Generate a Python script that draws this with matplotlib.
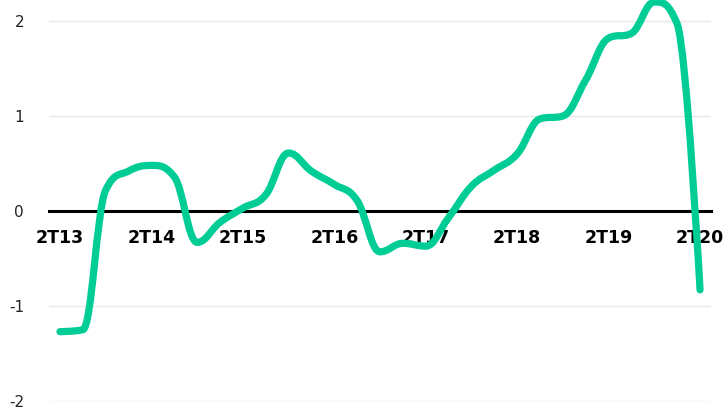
import matplotlib
matplotlib.use("Agg")
import matplotlib.pyplot as plt
from matplotlib.path import Path
from matplotlib.patches import PathPatch

# quarterly values, 2T13 .. 2T20
quarters = list(range(29))
values = [-1.27, -1.25, 0.22, 0.42, 0.48, 0.36, -0.33, -0.12, 0.03, 0.17,
          0.61, 0.42, 0.28, 0.11, -0.43, -0.34, -0.37, -0.07, 0.26, 0.43,
          0.60, 0.97, 1.00, 1.38, 1.82, 1.87, 2.20, 1.97, -0.83]
tick_pos = [0, 4, 8, 12, 16, 20, 24, 28]
tick_labels = ["2T13", "2T14", "2T15", "2T16", "2T17", "2T18", "2T19", "2T20"]

LINE = "#00cc96"


def spline_path(xs, ys, smoothing=1.5):
    """Smooth bezier path through the points (highcharts style spline)."""
    n = len(xs)
    denom = smoothing + 1
    left = [(x, y) for x, y in zip(xs, ys)]
    right = [(x, y) for x, y in zip(xs, ys)]
    for i in range(1, n - 1):
        lx, ly = xs[i - 1], ys[i - 1]
        px, py = xs[i], ys[i]
        nx, ny = xs[i + 1], ys[i + 1]
        lcx = (smoothing * px + lx) / denom
        lcy = (smoothing * py + ly) / denom
        rcx = (smoothing * px + nx) / denom
        rcy = (smoothing * py + ny) / denom
        corr = 0
        if rcx != lcx:
            corr = (rcy - lcy) * (rcx - px) / (rcx - lcx) + py - rcy
        lcy += corr
        rcy += corr
        if lcy > ly and lcy > py:
            lcy = max(ly, py)
            rcy = 2 * py - lcy
        elif lcy < ly and lcy < py:
            lcy = min(ly, py)
            rcy = 2 * py - lcy
        if rcy > ny and rcy > py:
            rcy = max(ny, py)
            lcy = 2 * py - rcy
        elif rcy < ny and rcy < py:
            rcy = min(ny, py)
            lcy = 2 * py - rcy
        left[i] = (lcx, lcy)
        right[i] = (rcx, rcy)
    verts = [(xs[0], ys[0])]
    codes = [Path.MOVETO]
    for i in range(1, n):
        verts += [right[i - 1], left[i], (xs[i], ys[i])]
        codes += [Path.CURVE4] * 3
    return Path(verts, codes)


fig = plt.figure(figsize=(7.27, 4.07), dpi=100)
ax = fig.add_axes([49 / 727, 6 / 407, 662 / 727, 401 / 407])

ax.set_xlim(-0.48, 28.48)
ax.set_ylim(-2, 2.221)

ax.set_yticks([-2, -1, 0, 1, 2])
ax.set_yticklabels(["-2", "-1", "0", "1", "2"])
ax.yaxis.grid(True, color="#e8e8e8", linewidth=1)
ax.set_axisbelow(True)
ax.tick_params(axis="y", length=0, pad=18, labelsize=11, labelcolor="#222222")

for s in ["top", "right", "left"]:
    ax.spines[s].set_visible(False)
ax.spines["bottom"].set_position(("data", 0))
ax.spines["bottom"].set_linewidth(2.2)
ax.spines["bottom"].set_color("black")
ax.spines["bottom"].set_zorder(2)

ax.set_xticks(tick_pos)
ax.set_xticklabels(tick_labels, fontweight="bold")
ax.tick_params(axis="x", length=0, pad=13, labelsize=12.5, labelcolor="black")

patch = PathPatch(spline_path(quarters, values), facecolor="none", edgecolor=LINE,
                  linewidth=5.2, capstyle="round", joinstyle="round", zorder=3)
ax.add_patch(patch)

fig.savefig("out.png", dpi=100, facecolor="white")
